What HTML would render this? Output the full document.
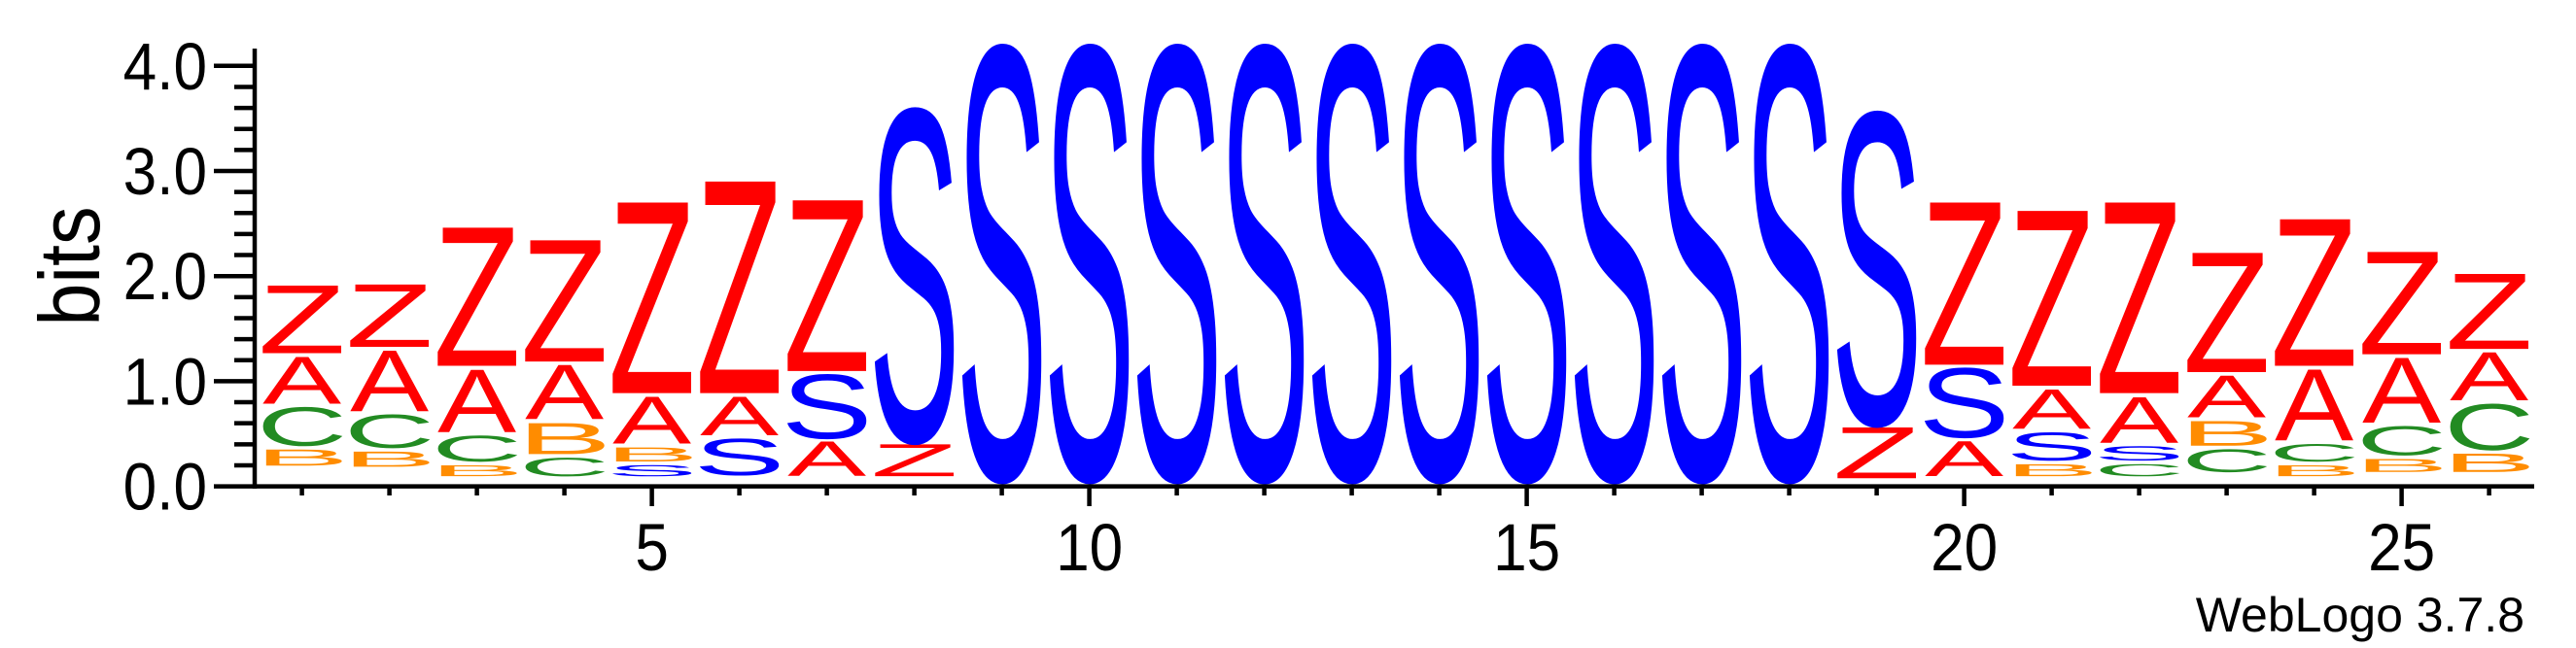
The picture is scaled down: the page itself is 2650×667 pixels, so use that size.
<!DOCTYPE html>
<html><head><meta charset="utf-8"><style>
html,body{margin:0;padding:0;background:#fff;}
svg{display:block;}
text{font-family:"Liberation Sans",sans-serif;}
</style></head><body>
<svg id="chart" width="2650" height="667" viewBox="0 0 2650 667" xmlns="http://www.w3.org/2000/svg">
<g id="marks"></g>
<g id="axes"></g>
<text transform="translate(102,274) rotate(-90) scale(0.9,1)" font-size="88" text-anchor="middle" fill="#000">bits</text>
<text x="2597" y="650" font-size="50" text-anchor="end" fill="#000">WebLogo 3.7.8</text>
</svg>
<script>
const positions = [1,2,3,4,5,6,7,8,9,10,11,12,13,14,15,16,17,18,19,20,21,22,23,24,25,26];
const other = [0.16,0.15,0.06,0.06,0.06,0.07,0.06,0.06,0.04,0.04,0.04,0.04,0.04,0.04,0.04,0.04,0.04,0.04,0.04,0.06,0.06,0.06,0.10,0.06,0.10,0.10];
const zVals = [0.68,0.63,1.35,1.19,1.85,2.05,1.66,0.34,0,0,0,0,0,0,0,0,0,0,0.52,1.58,1.70,1.85,1.17,1.43,1.01,0.75];
const aVals = [0.48,0.61,0.63,0.55,0.48,0.40,0.36,0,0,0,0,0,0,0,0,0,0,0,0,0.37,0.41,0.47,0.43,0.71,0.65,0.49];
const sVals = [0,0,0,0,0.14,0.38,0.64,3.16,4.11,4.11,4.11,4.11,4.11,4.11,4.11,4.11,4.11,4.11,2.97,0.69,0.30,0.17,0,0,0,0];
const cVals = [0.40,0.35,0.28,0.21,0,0,0,0,0,0,0,0,0,0,0,0,0,0,0,0,0,0.15,0.25,0.20,0.31,0.47];
const bVals = [0.19,0.18,0.14,0.33,0.17,0,0,0,0,0,0,0,0,0,0,0,0,0,0,0,0.15,0,0.27,0.14,0.16,0.21];
const yTicks = [0,1,2,3,4];
const yTickLabels = ["0.0","1.0","2.0","3.0","4.0"];
const xTickLabels = [5,10,15,20,25];

const NS = "http://www.w3.org/2000/svg";
const X0 = 310.6, DX = 90, Y0 = 500.6, PPB = 108.2;
function xScale(p){ return X0 + (p-1)*DX; }
function yScale(v){ return Y0 - v*PPB; }
const letters = {
  Z:{vals:zVals,color:"#ff0000",ink:0.9},
  A:{vals:aVals,color:"#ff0000",ink:1.0},
  S:{vals:sVals,color:"#0000ff",ink:0.86},
  C:{vals:cVals,color:"#228b22",ink:0.87},
  B:{vals:bVals,color:"#ff8c00",ink:0.83}
};
const marks = document.getElementById("marks");
const FS = 100, CAP = 0.688*FS, INKW = 81, GAP = 4;
positions.forEach((p,i)=>{
  const stack = Object.keys(letters).map(k=>({k,v:letters[k].vals[i]})).filter(o=>o.v>0).sort((a,b)=>a.v-b.v);
  let base = other[i];
  const cx = xScale(p);
  stack.forEach(o=>{
    const yb = yScale(base) - GAP;
    const yt = yScale(base+o.v);
    const h = yb-yt;
    base += o.v;
    if(h<=0) return;
    const t = document.createElementNS(NS,"text");
    
    
    t.textContent = o.k;
    t.setAttribute("x",0); t.setAttribute("y",0);
    t.setAttribute("font-size",FS);
    t.setAttribute("text-anchor","middle");
    t.setAttribute("fill",letters[o.k].color);
    const adv = INKW/letters[o.k].ink;
    t.setAttribute("textLength",adv);
    t.setAttribute("lengthAdjust","spacingAndGlyphs");
    t.setAttribute("transform","translate("+cx+","+yb+") scale(1,"+(h/CAP)+")");
    marks.appendChild(t);
  });
});
const axes = document.getElementById("axes");
function line(x1,y1,x2,y2,w,name){
  const l=document.createElementNS(NS,"line");
  
  
  l.setAttribute("x1",x1);l.setAttribute("y1",y1);l.setAttribute("x2",x2);l.setAttribute("y2",y2);
  l.setAttribute("stroke","#000");l.setAttribute("stroke-width",w);
  axes.appendChild(l);
}
line(262,50,262,503,4.5,"y-axis-line");
line(260,500.6,2607,500.6,4.5,"x-axis-line");
for(let v=0; v<=4.001; v+=0.2){
  const major = Math.abs(v-Math.round(v))<1e-6;
  line(major?220:241, yScale(v), 262, yScale(v), 4.5, major?"y-major-tick":"y-minor-tick");
}
yTicks.forEach((v,i)=>{
  const t=document.createElementNS(NS,"text");
  
  
  t.textContent=yTickLabels[i];
  t.setAttribute("font-size",69);
  t.setAttribute("text-anchor","end");
  t.setAttribute("transform","translate(213,"+(yScale(v)+24)+") scale(0.9,1)");
  axes.appendChild(t);
});
positions.forEach(p=>{
  const major = xTickLabels.indexOf(p)>=0;
  line(xScale(p),500,xScale(p),major?521:510,4.5,major?"x-major-tick":"x-minor-tick");
});
xTickLabels.forEach(p=>{
  const t=document.createElementNS(NS,"text");
  
  
  t.textContent=String(p);
  t.setAttribute("font-size",69);
  t.setAttribute("text-anchor","middle");
  t.setAttribute("transform","translate("+xScale(p)+",587) scale(0.9,1)");
  axes.appendChild(t);
});
</script>
</body></html>
